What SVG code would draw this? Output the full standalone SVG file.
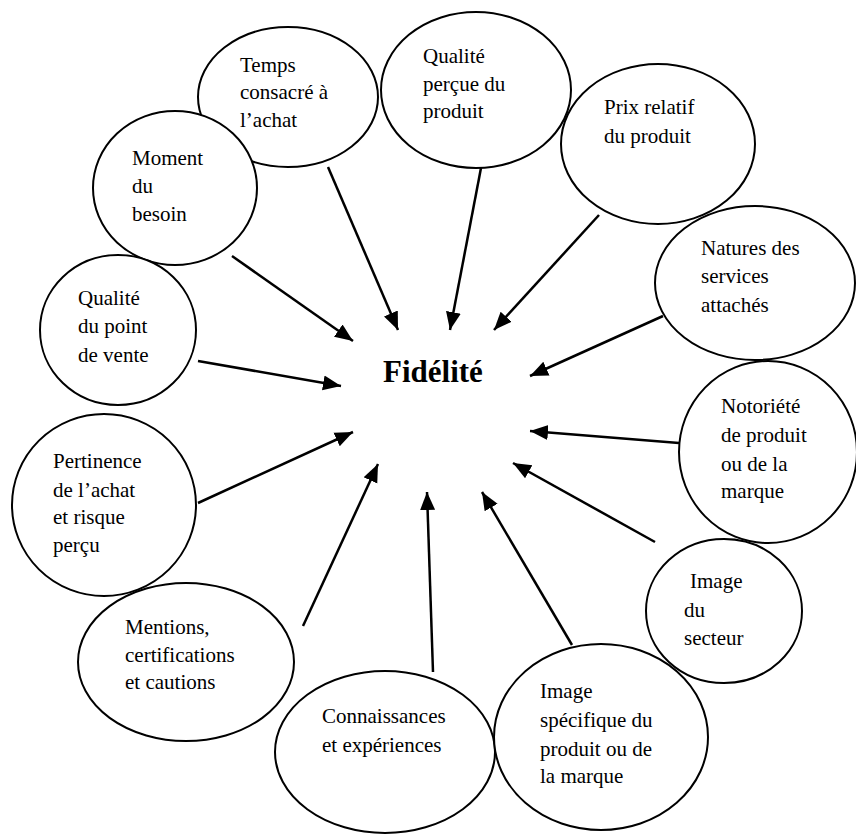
<svg xmlns="http://www.w3.org/2000/svg" width="856" height="836" viewBox="0 0 856 836">
<style>
.n ellipse{fill:#fff;stroke:#000;stroke-width:2}
.n text{font-family:"Liberation Serif","Times New Roman",serif;font-size:21px;fill:#000}
.c line{stroke:#000;stroke-width:2.5}
.t{font-family:"Liberation Serif","Times New Roman",serif;font-size:31px;font-weight:bold;fill:#000}
</style>
<defs>
<marker id="ah" markerUnits="userSpaceOnUse" markerWidth="20" markerHeight="18" viewBox="0 0 20 18" refX="18" refY="9" orient="auto">
<path d="M0,1.5 L18,9 L0,16.5 Z" fill="#000"/>
</marker>
</defs>
<g id="n-temps" class="n"><ellipse cx="288" cy="97" rx="90" ry="70"/><text x="240" y="72">Temps</text><text x="240" y="99">consacré à</text><text x="240" y="127">l’achat</text></g>
<g id="n-qualite-percue" class="n"><ellipse cx="476" cy="90" rx="95" ry="78"/><text x="423" y="63">Qualité</text><text x="423" y="91">perçue du</text><text x="423" y="118">produit</text></g>
<g id="n-moment" class="n"><ellipse cx="175" cy="188" rx="82" ry="77"/><text x="132" y="165">Moment</text><text x="132" y="193">du</text><text x="132" y="221">besoin</text></g>
<g id="n-prix" class="n"><ellipse cx="658" cy="144" rx="97" ry="80"/><text x="604" y="114">Prix relatif</text><text x="604" y="143">du produit</text></g>
<g id="n-natures" class="n"><ellipse cx="755" cy="283" rx="100" ry="77"/><text x="701" y="255">Natures des</text><text x="701" y="283">services</text><text x="701" y="312">attachés</text></g>
<g id="n-qualite-pv" class="n"><ellipse cx="118" cy="330" rx="78" ry="75"/><text x="78" y="305">Qualité</text><text x="78" y="333">du point</text><text x="78" y="362">de vente</text></g>
<g id="n-notoriete" class="n"><ellipse cx="768" cy="452" rx="89" ry="91"/><text x="721" y="413">Notoriété</text><text x="721" y="442">de produit</text><text x="721" y="471">ou de la</text><text x="721" y="498">marque</text></g>
<g id="n-pertinence" class="n"><ellipse cx="104" cy="505" rx="92" ry="91"/><text x="53" y="468">Pertinence</text><text x="53" y="497">de l’achat</text><text x="53" y="524">et risque</text><text x="53" y="552">perçu</text></g>
<g id="n-secteur" class="n"><ellipse cx="724" cy="611" rx="78" ry="72"/><text x="690" y="588">Image</text><text x="684" y="617">du</text><text x="684" y="645">secteur</text></g>
<g id="n-mentions" class="n"><ellipse cx="186" cy="662" rx="108" ry="79"/><text x="125" y="634">Mentions,</text><text x="125" y="662">certifications</text><text x="125" y="689">et cautions</text></g>
<g id="n-connaissances" class="n"><ellipse cx="385" cy="752" rx="110" ry="81"/><text x="322" y="723">Connaissances</text><text x="322" y="752">et expériences</text></g>
<g id="n-image-specifique" class="n"><ellipse cx="601" cy="737" rx="107" ry="93"/><text x="540" y="698">Image</text><text x="540" y="727">spécifique du</text><text x="540" y="756">produit ou de</text><text x="540" y="783">la marque</text></g>
<g id="n-fidelite"><text class="t" x="383" y="382">Fidélité</text></g>
<g id="connectors" class="c">
<line x1="328" y1="167" x2="398" y2="330" marker-end="url(#ah)"/>
<line x1="481" y1="168" x2="450" y2="330" marker-end="url(#ah)"/>
<line x1="599" y1="215" x2="494" y2="330" marker-end="url(#ah)"/>
<line x1="663" y1="316" x2="530" y2="376" marker-end="url(#ah)"/>
<line x1="232" y1="256" x2="353" y2="341" marker-end="url(#ah)"/>
<line x1="198" y1="361" x2="341" y2="386" marker-end="url(#ah)"/>
<line x1="198" y1="503" x2="353" y2="432" marker-end="url(#ah)"/>
<line x1="303" y1="626" x2="378" y2="464" marker-end="url(#ah)"/>
<line x1="433" y1="672" x2="427" y2="492" marker-end="url(#ah)"/>
<line x1="572" y1="645" x2="482" y2="492" marker-end="url(#ah)"/>
<line x1="655" y1="542" x2="513" y2="463" marker-end="url(#ah)"/>
<line x1="679" y1="443" x2="530" y2="431" marker-end="url(#ah)"/>
</g>
</svg>
